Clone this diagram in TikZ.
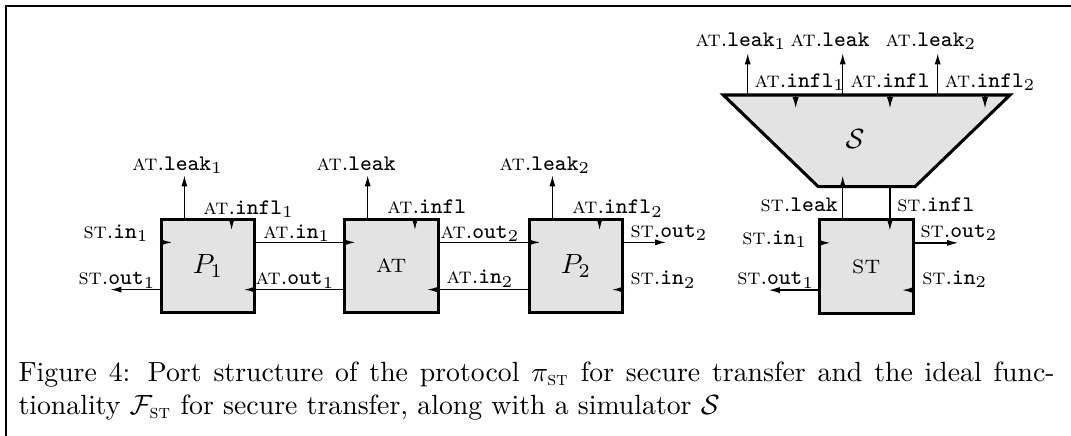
\documentclass[tikz,border=0pt]{standalone}
\usepackage{amsmath}
\usetikzlibrary{arrows.meta}
\newcommand{\atp}[1]{\textsc{at}.\texttt{#1}}
\newcommand{\stp}[1]{\textsc{st}.\texttt{#1}}
\begin{document}
\begin{tikzpicture}[x=0.36pt,y=-0.36pt,>={Latex[length=4pt,width=2.2pt]},
    box/.style={draw,line width=1.1pt,fill=black!11,minimum size=33.8pt,inner sep=0pt},
    lbl/.style={anchor=base west,inner sep=0pt,font=\fontsize{8}{9.5}\selectfont},
    port/.style={->,line width=0.45pt}]
  \useasboundingbox (0,0) rectangle (1071,436);
  \draw[line width=0.7pt] (6,436) -- (6,6) -- (1071,6);

  \node[box] (P1) at (208,266) {$P_1$};
  \node[box] (AT) at (391.3,266) {\fontsize{7}{8}\selectfont AT};
  \node[box] (P2) at (576,266) {$P_2$};
  \node[box] (ST) at (866.3,266.5) {\fontsize{7}{8}\selectfont ST};

  \coordinate (tl) at (723.3,95);
  \coordinate (tr) at (1010,95);
  \coordinate (br) at (915,186.7);
  \coordinate (bl) at (818.3,186.7);
  \filldraw[fill=black!11,line width=1.1pt] (tl) -- (tr) -- (br) -- (bl) -- cycle;
  \node (S) at (855,139) {$\mathcal{S}$};

  \foreach \b in {P1,AT,P2} {
    \draw[port] ([xshift=-8.5pt]\b.north) -- ++(0,15.2pt);
    \draw[port] ([xshift=8.5pt]\b.north) -- ++(0,-4.5pt);
  }
  \draw[port] ([yshift=8.5pt]P1.west) -- ++(4.5pt,0);
  \draw[port] ([yshift=-8.5pt]P1.west) -- ++(-17.7pt,0);
  \draw[port] ([yshift=8.5pt]P1.east) -- ([yshift=8.5pt,xshift=4.5pt]AT.west);
  \draw[port] ([yshift=-8.5pt]AT.west) -- ([yshift=-8.5pt,xshift=-4.5pt]P1.east);
  \draw[port] ([yshift=8.5pt]AT.east) -- ([yshift=8.5pt,xshift=4.5pt]P2.west);
  \draw[port] ([yshift=-8.5pt]P2.west) -- ([yshift=-8.5pt,xshift=-4.5pt]AT.east);
  \draw[port] ([yshift=8.5pt]P2.east) -- ++(15pt,0);
  \draw[port] ([yshift=-8.5pt]P2.east) -- ++(-4.5pt,0);

  \draw[port] ([xshift=-8.5pt]ST.north) -- ++(0,15.2pt);
  \draw[port,<-] ([xshift=8.5pt,yshift=-4.5pt]ST.north) -- ++(0,16.2pt);
  \draw[port] ([yshift=8.5pt]ST.west) -- ++(4.5pt,0);
  \draw[port] ([yshift=-8.5pt]ST.west) -- ++(-17.7pt,0);
  \draw[port] ([yshift=8.5pt]ST.east) -- ++(15.6pt,0);
  \draw[port] ([yshift=-8.5pt]ST.east) -- ++(-4.5pt,0);

  \foreach \x in {747.7,842.7,937.7} \draw[port] (\x,95) -- ++(0,15pt);
  \foreach \x in {795.7,890,985} \draw[port] (\x,95) -- ++(0,-4.8pt);

  \node[lbl] (l1) at (131.7,170.7) {\atp{leak}$_1$};
  \node[lbl] (l2) at (202.7,214.3) {\atp{infl}$_1$};
  \node[lbl] (l3) at (83,238.3) {\stp{in}$_1$};
  \node[lbl] (l4) at (262.7,238.3) {\atp{in}$_1$};
  \node[lbl] (l5) at (78,285) {\stp{out}$_1$};
  \node[lbl] (l6) at (255,285) {\atp{out}$_1$};

  \node[lbl] (l7) at (316,170.7) {\atp{leak}};
  \node[lbl] (l8) at (386.7,214) {\atp{infl}};
  \node[lbl] (l9) at (440,238.3) {\atp{out}$_2$};
  \node[lbl] (l10) at (446,284) {\atp{in}$_2$};

  \node[lbl] (l11) at (499,170.7) {\atp{leak}$_2$};
  \node[lbl] (l12) at (571.7,214) {\atp{infl}$_2$};
  \node[lbl] (l13) at (630,237.5) {\stp{out}$_2$};
  \node[lbl] (l14) at (630,285) {\stp{in}$_2$};

  \node[lbl] (l15) at (760,211.7) {\stp{leak}};
  \node[lbl] (l16) at (896.7,211.7) {\stp{infl}};
  \node[lbl] (l17) at (741.7,244.3) {\stp{in}$_1$};
  \node[lbl] (l18) at (736.7,285) {\stp{out}$_1$};
  \node[lbl] (l19) at (920,237.3) {\stp{out}$_2$};
  \node[lbl] (l20) at (921.7,284.5) {\stp{in}$_2$};

  \node[lbl] (l21) at (695,46.7) {\atp{leak}$_1$};
  \node[lbl] (l22) at (790,46.7) {\atp{leak}};
  \node[lbl] (l23) at (885,46.7) {\atp{leak}$_2$};
  \node[lbl] (l24) at (754,87.7) {\atp{infl}$_1$};
  \node[lbl] (l25) at (850,87.7) {\atp{infl}};
  \node[lbl] (l26) at (944.3,87.7) {\atp{infl}$_2$};

  \node[anchor=north west,inner sep=0pt,text width=373pt,align=justify] (cap) at (18,361)
    {Figure 4: Port structure of the protocol $\pi_{\text{\textsc{st}}}$ for secure transfer and the ideal func-\linebreak
     tionality $\mathcal{F}_{\text{\textsc{st}}}$ for secure transfer, along with a simulator $\mathcal{S}$};
\end{tikzpicture}
\end{document}
